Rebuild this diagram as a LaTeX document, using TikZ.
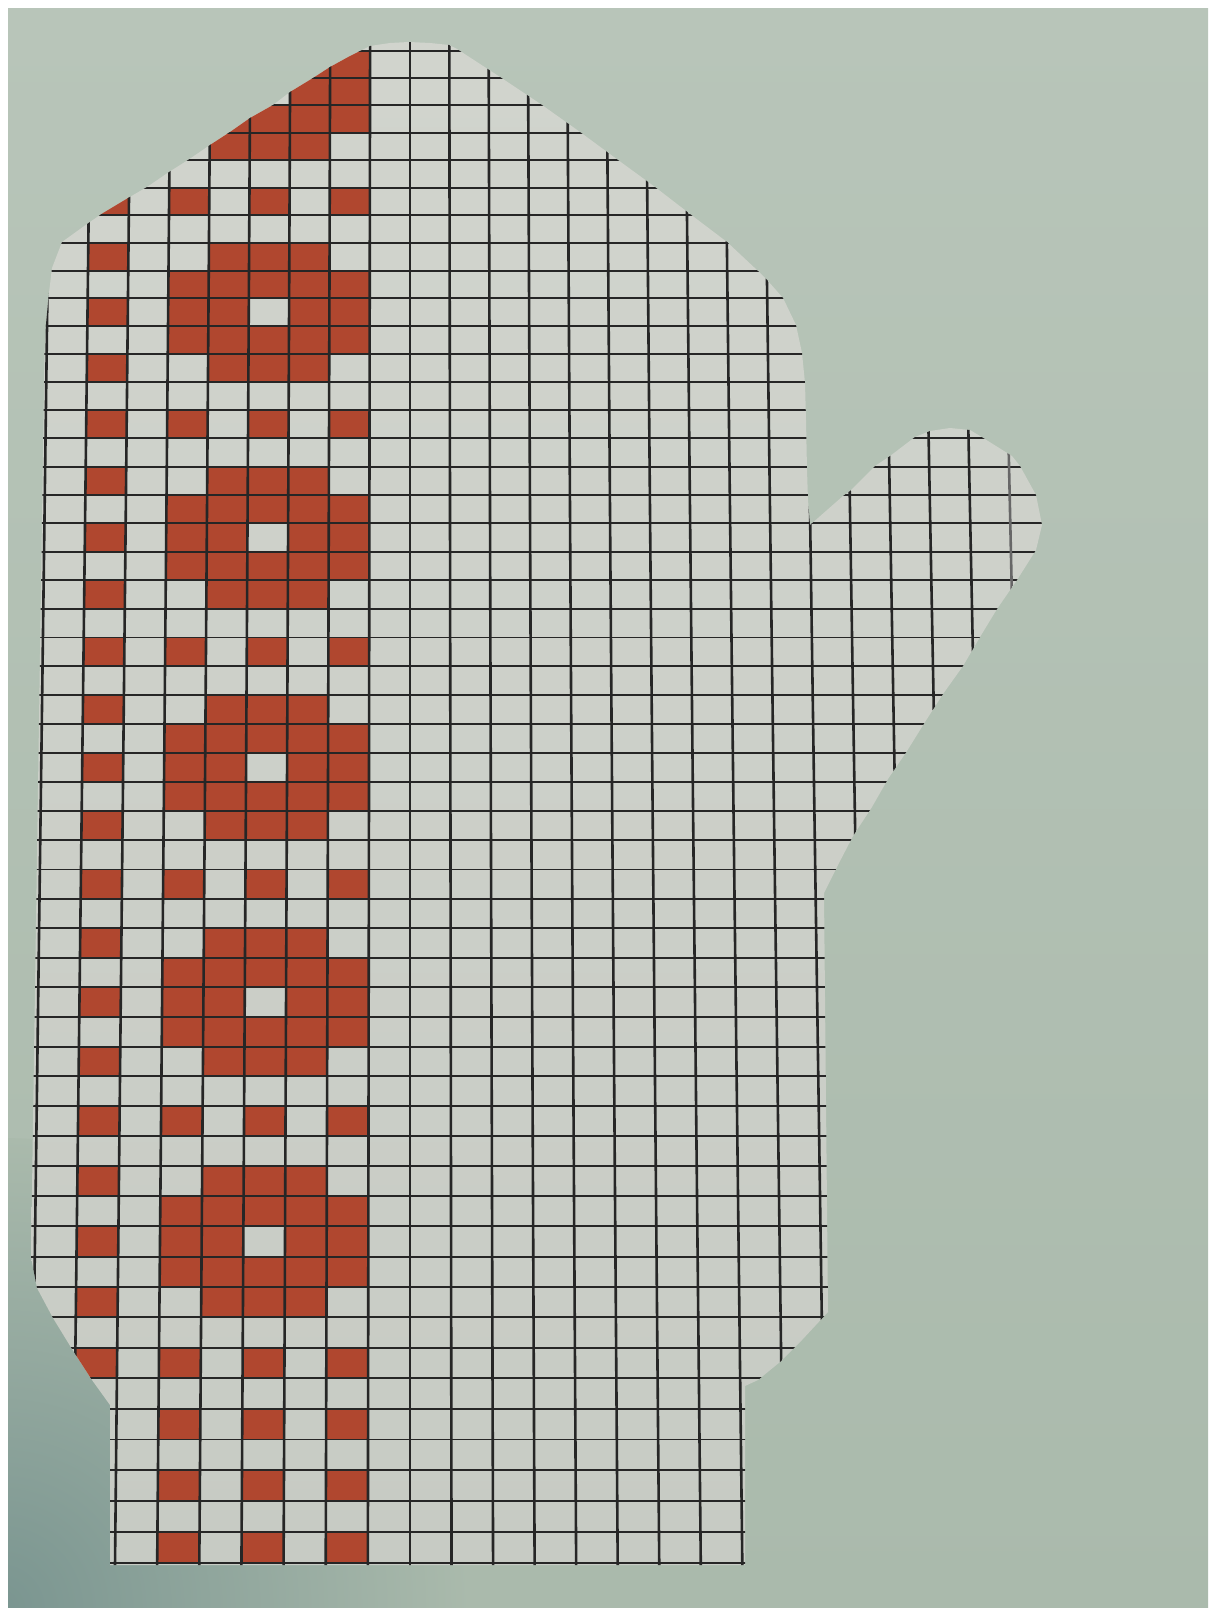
\documentclass[tikz,border=0pt]{standalone}
\definecolor{bgc}{HTML}{AABAAC}
\definecolor{bgtop}{HTML}{B8C5B9}
\definecolor{bgdark}{HTML}{7A9590}
\definecolor{papertop}{HTML}{D1D4CD}
\definecolor{paperbot}{HTML}{C7CBC4}
\definecolor{redc}{HTML}{B0472F}
\definecolor{gridc}{HTML}{262626}
\pgfkeys{/gcs/.cd,c/.store in=\gcsc,r/.store in=\gcsr,c=0,r=0}
\tikzdeclarecoordinatesystem{g}{%
  \pgfkeys{/gcs/.cd,#1}%
  \pgfmathsetmacro\gcsy{51+27.15*(\gcsr)+0.037*(\gcsr)*(\gcsr)}%
  \pgfmathsetmacro\gcsx{410+((\gcsc)-9)*(40+1.9*(\gcsy-100)/1300-0.6*((\gcsc)>9))}%
  \pgfpoint{\gcsx pt}{-\gcsy pt}%
}
\newcommand\redcell[2]{\fill[redc] (g cs:c=#1,r=#2) -- (g cs:c=#1+1,r=#2) -- (g cs:c=#1+1,r=#2+1) -- (g cs:c=#1,r=#2+1) -- cycle;}
\def\paperpath{(44.5,353) -- (46,324) -- (48.5,297) -- (52,268) -- (62,242) -- (87,224) -- (103,213) -- (128,198) -- (147,187) -- (169,172) -- (188,160) -- (210,145) -- (230,132) -- (250,118) -- (273,105) -- (290,92) -- (313,78) -- (330,67) -- (350,56) -- (362,50) -- (370,46) -- (390,43) -- (409,42) -- (430,43) -- (449,45) -- (457,49) -- (500,77) -- (542,105) -- (580,132) -- (618,160) -- (655,187) -- (690,214) -- (727,242) -- (758,271) -- (768,281) -- (783,298) -- (796,325) -- (802,353) -- (805,383) -- (806,420) -- (807,470) -- (808,500) -- (810,525) -- (843,496) -- (850,491) -- (875,466) -- (890,456) -- (915,437) -- (930,431) -- (950,428) -- (970,430) -- (980,436) -- (1012,456) -- (1020,466) -- (1036,495) -- (1042,525) -- (1036,550) -- (1017,580) -- (997,609) -- (980,637) -- (963,666) -- (943,694) -- (925,722) -- (907,751) -- (888,779) -- (872,807) -- (853,836) -- (838,865) -- (824,893) -- (828,1312) -- (802,1340) -- (780,1362) -- (758,1380) -- (745,1386) -- (745,1565) -- (110,1565) -- (110,1405) -- (92,1380) -- (72,1349) -- (53,1318) -- (37,1288) -- (31,1257) -- cycle}
\begin{document}
\begin{tikzpicture}[x=1pt,y=-1pt,
  hline/.style={draw=gridc,line width=1.9pt},
  vline/.style={draw=gridc,line width=2.6pt}]
\useasboundingbox (0,0) rectangle (1208,1608);
\fill[white] (0,0) rectangle (1208,1608);
\shade[top color=bgtop, bottom color=bgc] (8,9) rectangle (1208,1608);
\begin{scope}
  \clip (8,9) rectangle (1208,1608);
  \shade[inner color=bgdark, outer color=bgc] (0,1608) circle[radius=470pt];
\end{scope}
\shade[top color=papertop, bottom color=paperbot] \paperpath;
\begin{scope}
  \clip \paperpath;
  % red motif, period of 8 rows
  \foreach \m in {-1,...,4} {
    \foreach \o/\cols in {0/{1,3,5,7},2/{1,4,5,6},3/{3,4,5,6,7},4/{1,3,4,6,7},5/{3,4,5,6,7},6/{1,4,5,6}} {
      \pgfmathtruncatemacro\rr{5+8*\m+\o}
      \foreach \c in \cols {\redcell{\c}{\rr}}
    }
  }
  \foreach \c in {1,3,5,7} {\redcell{\c}{45}}
  \foreach \r in {47,49,51} {\foreach \c in {3,5,7} {\redcell{\c}{\r}}}
  % grid
  \foreach \r in {0,...,52} {\draw[hline] (g cs:c=-1,r=\r) -- (g cs:c=26,r=\r);}
  \foreach \c in {0,...,23} {\draw[vline] (g cs:c=\c,r=-1) -- (g cs:c=\c,r=53);}
  \draw[vline,draw=gridc!70] (g cs:c=24,r=-1) -- (g cs:c=24,r=53);
\end{scope}
\end{tikzpicture}
\end{document}
